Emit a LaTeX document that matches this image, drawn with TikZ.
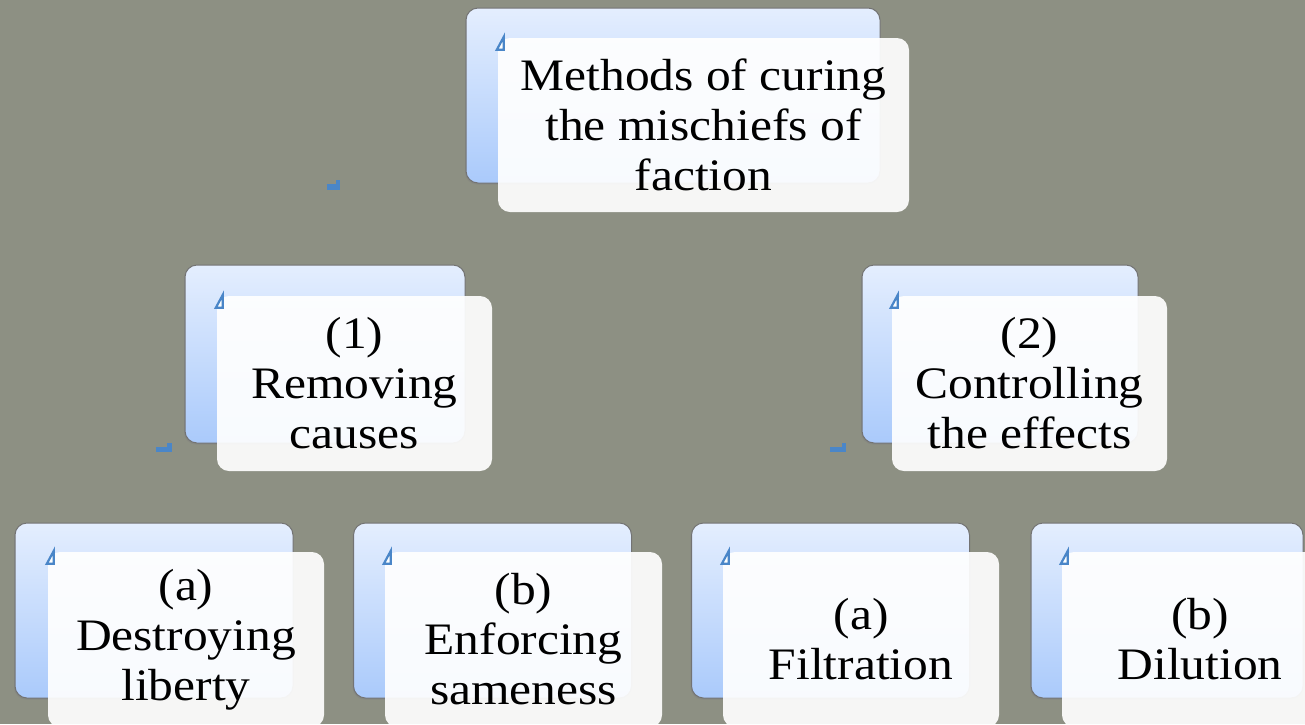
\documentclass[tikz,border=0pt]{standalone}
\usepackage{fontspec}
\setmainfont[FakeStretch=1.1]{Liberation Serif}
\usetikzlibrary{shadows}
\definecolor{bgcol}{HTML}{8D9083}
\definecolor{bluetop}{HTML}{E4EEFE}
\definecolor{bluebot}{HTML}{AACAFB}
\definecolor{markblue}{HTML}{4A86C8}
\tikzset{
  backbox/.style={rounded corners=12pt, top color=bluetop, bottom color=bluebot,
    draw=black!55, line width=1pt, inner sep=0pt,
    drop shadow={shadow xshift=-1pt, shadow yshift=-1.5pt, opacity=0.4}},
  frontbox/.style={rounded corners=12pt, fill=white, fill opacity=0.92, text opacity=1,
    inner sep=0pt, align=center, font=\fontsize{45}{50}\selectfont},
  tri/.style={draw=markblue, line width=2.2pt, line join=miter},
  lmark/.style={fill=markblue}
}
\begin{document}
\begin{tikzpicture}[x=1pt,y=-1pt]
\useasboundingbox (0,0) rectangle (1305,724);
\fill[bgcol] (0,0) rectangle (1305,724);
% back boxes
\node[backbox, minimum width=414pt, minimum height=175pt] (b0) at (673,95.5) {};
\node[backbox, minimum width=280pt, minimum height=178pt] (b1) at (325,354) {};
\node[backbox, minimum width=276pt, minimum height=178pt] (b2) at (1000,354) {};
\node[backbox, minimum width=278pt, minimum height=175pt] (b3) at (154,610.5) {};
\node[backbox, minimum width=278pt, minimum height=175pt] (b4) at (492.5,610.5) {};
\node[backbox, minimum width=278pt, minimum height=175pt] (b5) at (830.5,610.5) {};
\node[backbox, minimum width=272pt, minimum height=175pt] (b6) at (1167,610.5) {};
% front boxes
\node[frontbox, minimum width=411pt, minimum height=174pt] (w0) at (703.5,125) {Methods of curing\\the mischiefs of\\faction};
\node[frontbox, minimum width=275pt, minimum height=175pt] (w1) at (354.5,383.5) {(1)\\Removing\\causes};
\node[frontbox, minimum width=275pt, minimum height=175pt] (w2) at (1029.5,383.5) {(2)\\Controlling\\the effects};
\node[frontbox, minimum width=276pt, minimum height=175pt] (w3) at (186,639.5) {(a)\\Destroying\\liberty};
\node[frontbox, minimum width=277pt, minimum height=175pt] (w4) at (523.5,639.5) {(b)\\Enforcing\\sameness};
\node[frontbox, minimum width=276pt, minimum height=175pt] (w5) at (861,639.5) {(a)\\Filtration};
\node[frontbox, minimum width=276pt, minimum height=175pt] (w6) at (1200,639.5) {(b)\\Dilution};
% small triangle marks at top-left of front boxes
\foreach \n in {w0,w1,w2,w3,w4,w5,w6}{
  \draw[tri] ([xshift=-1pt,yshift=-12pt]\n.north west) -- ([xshift=6pt,yshift=-12pt]\n.north west) -- ([xshift=6pt,yshift=1pt]\n.north west) -- cycle;
}
% small L marks
\fill[lmark] (327,184) rectangle (340,190);
\fill[lmark] (336,180) rectangle (340,190);
\fill[lmark] (156,447) rectangle (172,452);
\fill[lmark] (167,443) rectangle (172,452);
\fill[lmark] (830,447) rectangle (846,452);
\fill[lmark] (842,443) rectangle (846,452);
\end{tikzpicture}
\end{document}
